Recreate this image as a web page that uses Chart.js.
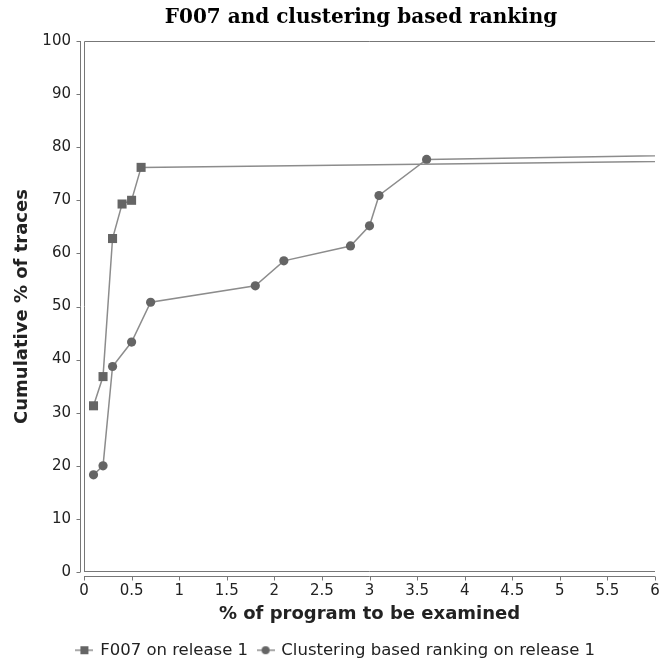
<!DOCTYPE html>
<html>
<head>
<meta charset="utf-8">
<script src="https://cdn.jsdelivr.net/npm/chart.js@4/dist/chart.umd.min.js"></script>
<style>
  html, body { margin: 0; padding: 0; background: #ffffff; }
  #wrap { width: 672px; height: 661px; }
</style>
</head>
<body>
<div id="wrap"><canvas id="c" width="672" height="661"></canvas></div>
<script>
// ---- data ----
const chartTitle = "F007 and clustering based ranking";
const xAxisTitle = "% of program to be examined";
const yAxisTitle = "Cumulative % of traces";
const seriesNames = ["F007 on release 1", "Clustering based ranking on release 1"];

// F007 on release 1 (last point lies beyond the visible x range and is clipped)
const f007X = [0.1, 0.2, 0.3, 0.4, 0.5, 0.6, 10];
const f007Y = [31.3, 36.8, 62.8, 69.3, 70.0, 76.2, 78.1];

// Clustering based ranking on release 1 (last point beyond the visible range)
const clusX = [0.1, 0.2, 0.3, 0.5, 0.7, 1.8, 2.1, 2.8, 3.0, 3.1, 3.6, 10];
const clusY = [18.3, 20.0, 38.7, 43.3, 50.8, 53.9, 58.6, 61.4, 65.2, 70.9, 77.7, 79.6];

const xTicks = [0, 0.5, 1, 1.5, 2, 2.5, 3, 3.5, 4, 4.5, 5, 5.5, 6];
const yTicks = [0, 10, 20, 30, 40, 50, 60, 70, 80, 90, 100];

// ---- styles ----
const lineColor = "#8c8c8c";
const markColor = "#656565";
const axisColor = "#777777";
const textColor = "#222222";

function legendIcon(kind) {
  const c = document.createElement("canvas");
  c.width = 18; c.height = 10;
  const g = c.getContext("2d");
  g.strokeStyle = lineColor; g.lineWidth = 1.5;
  g.beginPath(); g.moveTo(0, 5); g.lineTo(18, 5); g.stroke();
  g.fillStyle = markColor;
  if (kind === "rect") { g.fillRect(5, 1, 8, 8); }
  else { g.beginPath(); g.arc(9, 5, 4, 0, Math.PI * 2); g.fill(); }
  return c;
}

const toPts = (xs, ys) => xs.map((x, i) => ({ x: x, y: ys[i] }));

const frame = {
  id: "frame",
  afterDraw(chart) {
    const { ctx, chartArea: a, scales } = chart;
    const xs = scales.x, ys = scales.y;
    ctx.save();
    ctx.strokeStyle = axisColor;
    ctx.lineWidth = 1;
    ctx.beginPath();
    // plot outline (top, left, bottom)
    ctx.moveTo(a.left + 0.5, a.bottom - 0.5); ctx.lineTo(a.left + 0.5, a.top + 0.5); ctx.lineTo(a.right, a.top + 0.5);
    ctx.moveTo(a.left, a.bottom - 0.5); ctx.lineTo(a.right, a.bottom - 0.5);
    // offset axis lines
    const yAxX = a.left - 3.5, xAxY = a.bottom + 4.5;
    ctx.moveTo(yAxX, a.top); ctx.lineTo(yAxX, a.bottom);
    ctx.moveTo(a.left, xAxY); ctx.lineTo(a.right, xAxY);
    yTicks.forEach(v => { const p = Math.round(ys.getPixelForValue(v)) + 0.5; ctx.moveTo(yAxX - 4, p); ctx.lineTo(yAxX, p); });
    xTicks.forEach(v => { const p = Math.round(xs.getPixelForValue(v)) + 0.5; ctx.moveTo(p, xAxY); ctx.lineTo(p, xAxY + 4); });
    ctx.stroke();
    // chart title
    ctx.fillStyle = "#000000";
    ctx.font = 'bold 20px "DejaVu Serif"';
    ctx.textAlign = "center";
    ctx.textBaseline = "middle";
    ctx.fillText(chartTitle, 361, 18);
    ctx.restore();
  }
};

new Chart(document.getElementById("c"), {
  type: "line",
  data: {
    datasets: [
      {
        label: seriesNames[0],
        data: toPts(f007X, f007Y),
        borderColor: lineColor, borderWidth: 1.5,
        pointStyle: "rect", pointRadius: 6.4, pointHoverRadius: 6.4,
        pointBackgroundColor: markColor, pointBorderColor: markColor, pointBorderWidth: 0,
        tension: 0, fill: false
      },
      {
        label: seriesNames[1],
        data: toPts(clusX, clusY),
        borderColor: lineColor, borderWidth: 1.5,
        pointStyle: "circle", pointRadius: 4.6, pointHoverRadius: 4.6,
        pointBackgroundColor: markColor, pointBorderColor: markColor, pointBorderWidth: 0,
        tension: 0, fill: false
      }
    ]
  },
  options: {
    responsive: false,
    animation: false,
    events: [],
    layout: { padding: { top: 41, right: 17, bottom: 0, left: 17 } },
    plugins: {
      title: { display: false },
      tooltip: { enabled: false },
      legend: {
        position: "bottom",
        maxHeight: 29,
        labels: {
          usePointStyle: true,
          pointStyleWidth: 15,
          padding: 10,
          color: textColor,
          font: { family: '"DejaVu Sans"', size: 16.5 },
          generateLabels(chart) {
            return chart.data.datasets.map((d, i) => ({
              text: d.label,
              pointStyle: legendIcon(i === 0 ? "rect" : "circle"),
              fillStyle: markColor, strokeStyle: markColor, lineWidth: 0,
              fontColor: textColor,
              datasetIndex: i, hidden: false
            }));
          }
        }
      }
    },
    scales: {
      x: {
        type: "linear", min: 0, max: 6,
        afterBuildTicks(s) { s.ticks = xTicks.map(v => ({ value: v })); },
        afterFit(s) { s.height = 60; },
        grid: { display: false, drawTicks: false },
        border: { display: false },
        ticks: {
          padding: 10, color: textColor,
          font: { family: '"DejaVu Sans"', size: 15 },
          callback: v => String(v)
        },
        title: {
          display: true, text: xAxisTitle, color: textColor,
          font: { family: '"DejaVu Sans"', size: 18, weight: "bold" },
          padding: { top: 0, bottom: 7 }
        }
      },
      y: {
        type: "linear", min: 0, max: 100,
        afterBuildTicks(s) { s.ticks = yTicks.map(v => ({ value: v })); },
        afterFit(s) { s.width = 67; },
        grid: { display: false, drawTicks: false },
        border: { display: false },
        ticks: {
          padding: 13, color: textColor,
          font: { family: '"DejaVu Sans"', size: 15 },
          callback: v => String(v)
        },
        title: {
          display: true, text: yAxisTitle, color: textColor,
          font: { family: '"DejaVu Sans"', size: 18, weight: "bold", lineHeight: 1 },
          padding: { top: -4, bottom: 0 }
        }
      }
    }
  },
  plugins: [frame]
});
</script>
</body>
</html>
